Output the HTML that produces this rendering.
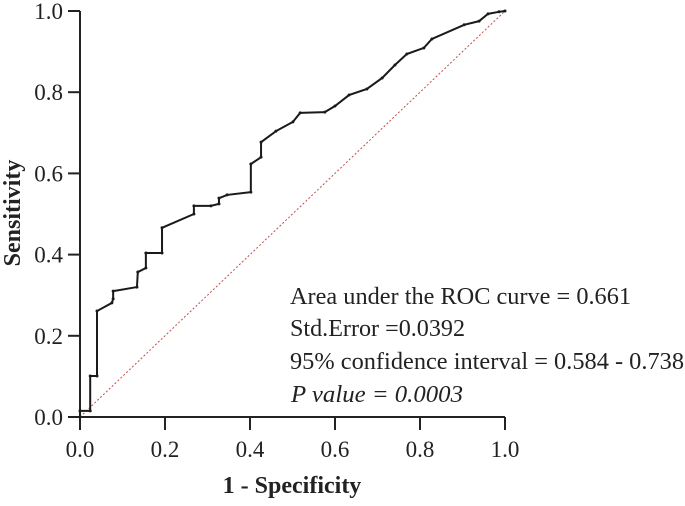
<!DOCTYPE html>
<html><head><meta charset="utf-8"><style>
body{margin:0;background:#fff;}
svg text{font-family:"Liberation Serif",serif;fill:#222;}
</style></head><body>
<svg id="chart" width="685" height="501" xmlns="http://www.w3.org/2000/svg">
<g id="axes"></g>
<g id="marks"></g>
<text transform="translate(20,213) rotate(-90)" text-anchor="middle" font-size="24" font-weight="bold">Sensitivity</text>
<text x="292" y="493" text-anchor="middle" font-size="24" font-weight="bold">1 - Specificity</text>
<g font-size="24">
<text x="290" y="304" textLength="341" lengthAdjust="spacingAndGlyphs">Area under the ROC curve = 0.661</text>
<text x="290" y="336" textLength="175" lengthAdjust="spacingAndGlyphs">Std.Error =0.0392</text>
<text x="290" y="369" textLength="394" lengthAdjust="spacingAndGlyphs">95% confidence interval = 0.584 - 0.738</text>
<text x="291" y="402" font-style="italic" textLength="172" lengthAdjust="spacingAndGlyphs">P value = 0.0003</text>
</g>
</svg>
<script>
const fpr=[0,0,0.024,0.024,0.040,0.040,0.075,0.078,0.078,0.134,0.136,0.155,0.155,0.193,0.193,0.268,0.268,0.308,0.327,0.327,0.346,0.402,0.402,0.426,0.426,0.461,0.501,0.518,0.576,0.600,0.633,0.675,0.711,0.741,0.769,0.809,0.828,0.904,0.939,0.960,0.986,1];
const tpr=[0,0.015,0.015,0.101,0.101,0.261,0.281,0.291,0.310,0.320,0.357,0.367,0.404,0.404,0.466,0.500,0.520,0.520,0.525,0.539,0.547,0.554,0.623,0.640,0.677,0.704,0.727,0.749,0.751,0.766,0.793,0.808,0.835,0.867,0.894,0.909,0.931,0.966,0.975,0.993,0.998,1];
const ticks=[0,0.2,0.4,0.6,0.8,1.0];
const NS="http://www.w3.org/2000/svg";
const X0=80,X1=505,Y0=417,Y1=11;
const sx=v=>X0+v*(X1-X0), sy=v=>Y0-v*(Y0-Y1);
function mk(tag,attrs,parent){const e=document.createElementNS(NS,tag);for(const k in attrs)e.setAttribute(k,attrs[k]);parent.appendChild(e);return e;}
const axes=document.getElementById('axes'), marks=document.getElementById('marks');
let a=mk('line',{x1:X0,y1:Y0,x2:X1,y2:Y0,stroke:'#222','stroke-width':2},axes);


a=mk('line',{x1:X0,y1:Y0,x2:X0,y2:Y1,stroke:'#222','stroke-width':2},axes);


ticks.forEach(t=>{
 let l=mk('line',{x1:sx(t),y1:Y0,x2:sx(t),y2:Y0+13,stroke:'#222','stroke-width':2},axes);
 
 
 let tx=mk('text',{x:sx(t),y:Y0+40,'text-anchor':'middle','font-size':23},axes);tx.textContent=t.toFixed(1);
 
 
 l=mk('line',{x1:X0-12,y1:sy(t),x2:X0,y2:sy(t),stroke:'#222','stroke-width':2},axes);
 
 
 tx=mk('text',{x:X0-17,y:sy(t)+8,'text-anchor':'end','font-size':23},axes);tx.textContent=t.toFixed(1);
 
 
});
let ref=mk('line',{x1:sx(0),y1:sy(0),x2:sx(1),y2:sy(1),stroke:'#c0504d','stroke-width':1,'stroke-dasharray':'2,2'},marks);


let pts=fpr.map((f,i)=>sx(f)+','+sy(tpr[i])).join(' ');
let curve=mk('polyline',{points:pts,fill:'none',stroke:'#1a1a1a','stroke-width':2},marks);


fpr.forEach((f,i)=>{
 const c=mk('circle',{cx:sx(f),cy:sy(tpr[i]),r:1.5,fill:'#1a1a1a'},marks);
 
 
});
</script>
</body></html>
